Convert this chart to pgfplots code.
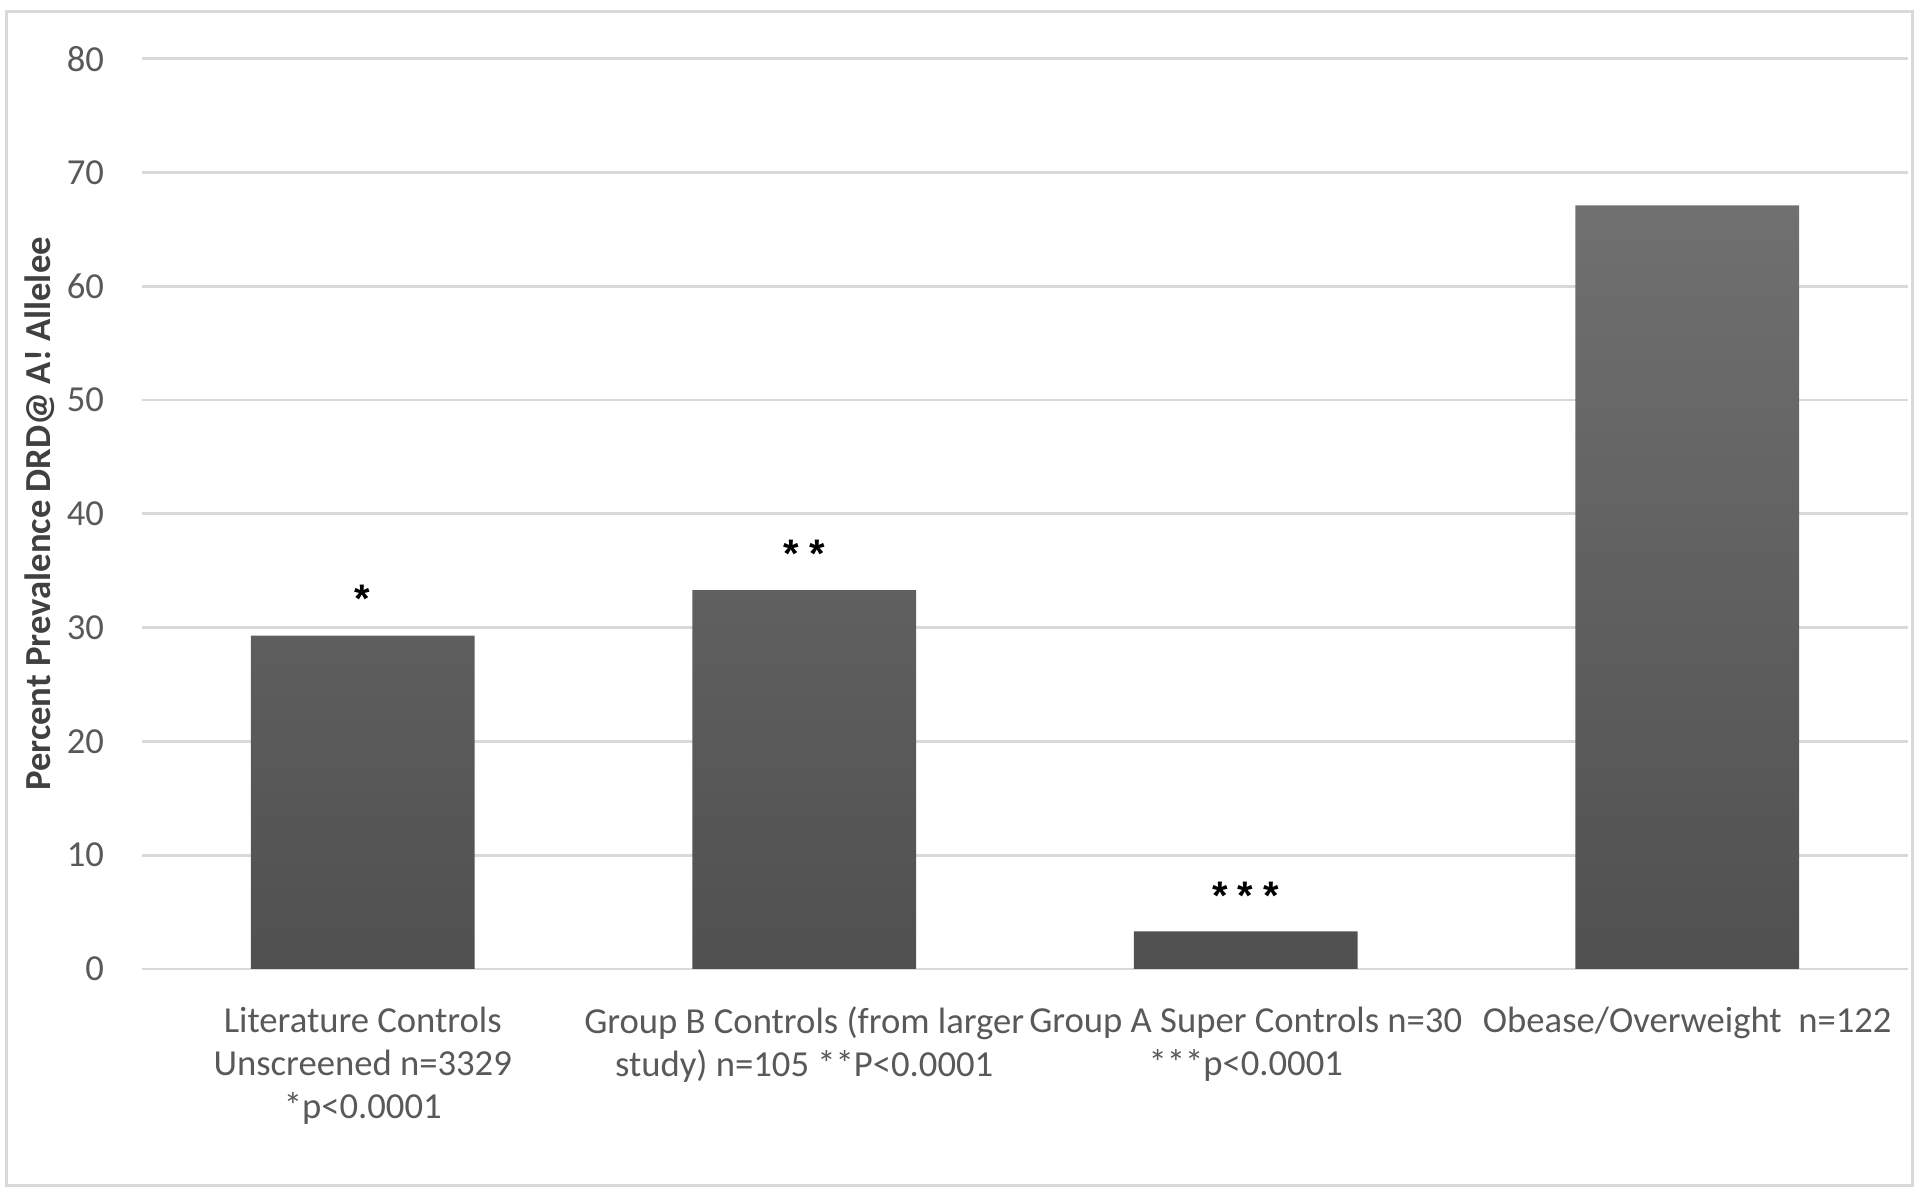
\documentclass[border=0pt]{standalone}
\usepackage{fontspec}
\setmainfont{Carlito}
\newfontfamily\starfont{Liberation Sans}
\usepackage{pgfplots}
\pgfplotsset{compat=1.18}
\definecolor{gridgray}{HTML}{D9D9D9}
\definecolor{txtgray}{HTML}{595959}
\definecolor{lblgray}{HTML}{404040}
\definecolor{bartop}{HTML}{707070}
\definecolor{barbot}{HTML}{505050}
\newcommand{\chartfont}{\fontsize{9.2}{10.75}\selectfont}
\newcommand{\stars}[1]{\fontsize{10}{12}\selectfont\starfont\bfseries #1}
\begin{document}
\begin{tikzpicture}
\begin{axis}[
  at={(0,0)}, anchor=south west,
  scale only axis, width=441.5bp, height=227.6bp,
  xmin=-0.5, xmax=3.5, ymin=0, ymax=80,
  ytick={0,10,...,80}, xtick={0,1,2,3},
  xticklabels={
    {Literature Controls\\Unscreened n=3329\\*p<0.0001},
    {Group B Controls (from larger\\study) n=105 **P<0.0001},
    {Group A Super Controls n=30\\***p<0.0001},
    {Obease/Overweight\ \ n=122}},
  ylabel={Percent Prevalence DRD@ A! Allelee},
  ylabel style={at={(axis description cs:-0.0578,0.5)}, anchor=center,
    font=\chartfont\bfseries, text=lblgray},
  axis line style={draw=none},
  major tick length=0pt,
  ymajorgrids, grid style={gridgray, line width=0.68bp},
  /pgf/number format/assume math mode=true,
  yticklabel style={font=\chartfont, text=txtgray, xshift=-6bp},
  xticklabel style={font=\chartfont, text=txtgray, align=center, yshift=-6bp},
]
\addplot[ybar, bar width=0.507, draw=none, top color=bartop, bottom color=barbot]
  coordinates {(0,29.3) (1,33.3) (2,3.3) (3,67.1)};
\node[anchor=base, yshift=5.8bp] at (axis cs:0,29.3) {\stars{*}};
\node[anchor=base, yshift=5.6bp] at (axis cs:1,33.3) {\stars{*\hspace{2.6bp}*}};
\node[anchor=base, yshift=5.4bp] at (axis cs:2,3.3) {\stars{*\hspace{2.6bp}*\hspace{2.6bp}*}};
\end{axis}
\draw[gridgray, line width=0.75bp] (-33.75bp,-54bp) rectangle (442.5bp,239.25bp);
\pgfresetboundingbox
\path (-35.5bp,-56.5bp) rectangle (445.25bp,242.25bp);
\end{tikzpicture}
\end{document}
